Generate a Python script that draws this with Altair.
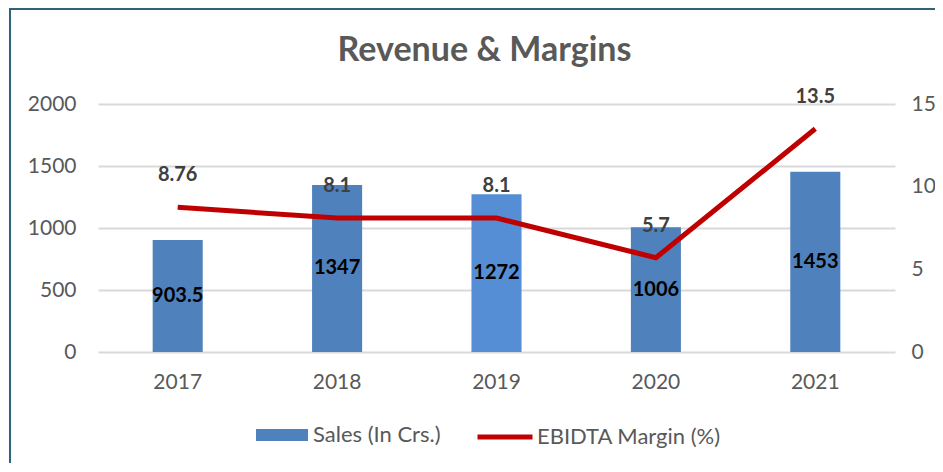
import altair as alt
import pandas as pd

years = ["2017", "2018", "2019", "2020", "2021"]
sales = [903.5, 1347, 1272, 1006, 1453]
margin = [8.76, 8.1, 8.1, 5.7, 13.5]
sales_label = ["903.5", "1347", "1272", "1006", "1453"]
margin_label = ["8.76", "8.1", "8.1", "5.7", "13.5"]
title_text = "Revenue & Margins"

df = pd.DataFrame({
    "year": years,
    "sales": sales,
    "margin": margin,
    "sales_label": sales_label,
    "margin_label": margin_label,
    "s1": "Sales (In Crs.)",
    "s2": "EBIDTA Margin (%)",
})

FONT = "Lato"
GRAY = "#595959"
W, H = 797, 248

base = alt.Chart(df)
x_enc = alt.X("year:N", title=None,
              scale=alt.Scale(paddingInner=0, paddingOuter=0),
              axis=alt.Axis(labelAngle=0, domain=False, ticks=False, labelPadding=19,
                            labelFontSize=21, labelColor=GRAY, labelFont=FONT))

first = base.transform_filter("datum.year == '2017'")

border = first.mark_rect(fill=None, stroke="#2F6375", strokeWidth=2).encode(
    x=alt.value(-88), x2=alt.value(1200), y=alt.value(-95), y2=alt.value(600)
)

title = first.mark_text(font=FONT, fontSize=34, fontWeight="bold", color=GRAY,
                        baseline="middle", align="center").encode(
    x=alt.value(W / 2 - 12), y=alt.value(-53), text=alt.value(title_text)
)

bars = base.mark_bar(width={"band": 0.314}).encode(
    x=x_enc,
    y=alt.Y("sales:Q", title=None,
            scale=alt.Scale(domain=[0, 2000], nice=False),
            axis=alt.Axis(values=[0, 500, 1000, 1500, 2000], format="d", domain=False, ticks=False,
                          gridColor="#D9D9D9", gridWidth=2, labelPadding=22,
                          labelFontSize=21, labelColor=GRAY, labelFont=FONT)),
    fill=alt.condition(
        "datum.year == '2019'",
        alt.value("#558ED5"),
        alt.Fill("s1:N", title=None,
                 scale=alt.Scale(domain=["Sales (In Crs.)"], range=["#4F81BD"]),
                 legend=alt.Legend(orient="none", legendX=158, legendY=305,
                                   symbolType="M-1,-0.23H1V0.23H-1Z", symbolSize=2704,
                                   symbolStrokeWidth=0, labelOffset=5, padding=0,
                                   labelLimit=400,
                                   labelFontSize=22, labelColor=GRAY, labelFont=FONT)),
    ),
)

bar_text = base.mark_text(fontWeight="bold", fontSize=20, font=FONT, color="#000000").encode(
    x="year:N",
    y=alt.Y("mid:Q", title=None),
    text="sales_label:N",
).transform_calculate(mid="datum.sales / 2")

line = base.mark_line(strokeWidth=5).encode(
    x="year:N",
    y=alt.Y("margin:Q", title=None,
            scale=alt.Scale(domain=[0, 15], nice=False),
            axis=alt.Axis(orient="right", values=[0, 5, 10, 15], grid=False, domain=False,
                          ticks=False, labelPadding=16,
                          labelFontSize=21, labelColor=GRAY, labelFont=FONT)),
    stroke=alt.Stroke("s2:N", title=None,
                      scale=alt.Scale(domain=["EBIDTA Margin (%)"], range=["#C00000"]),
                      legend=alt.Legend(orient="none", legendX=377, legendY=303,
                                        symbolType="stroke", symbolSize=3025,
                                        symbolStrokeWidth=5, labelOffset=2, padding=0,
                                        labelLimit=400,
                                        labelFontSize=22, labelColor=GRAY, labelFont=FONT)),
)

line_text = base.mark_text(fontWeight="bold", fontSize=20, font=FONT, color="#404040", dy=-32).encode(
    x="year:N",
    y=alt.Y("margin:Q", title=None),
    text="margin_label:N",
)

left = alt.layer(border, title, bars, bar_text)
right = alt.layer(line, line_text)

chart = alt.layer(left, right).resolve_scale(y="independent").properties(
    width=W, height=H,
    padding={"left": 90, "top": 96, "right": 40, "bottom": 111},
    autosize=alt.AutoSizeParams(type="none"),
).configure_view(stroke=None)

chart.save("out.html", embed_options={"renderer": "svg", "actions": False})
